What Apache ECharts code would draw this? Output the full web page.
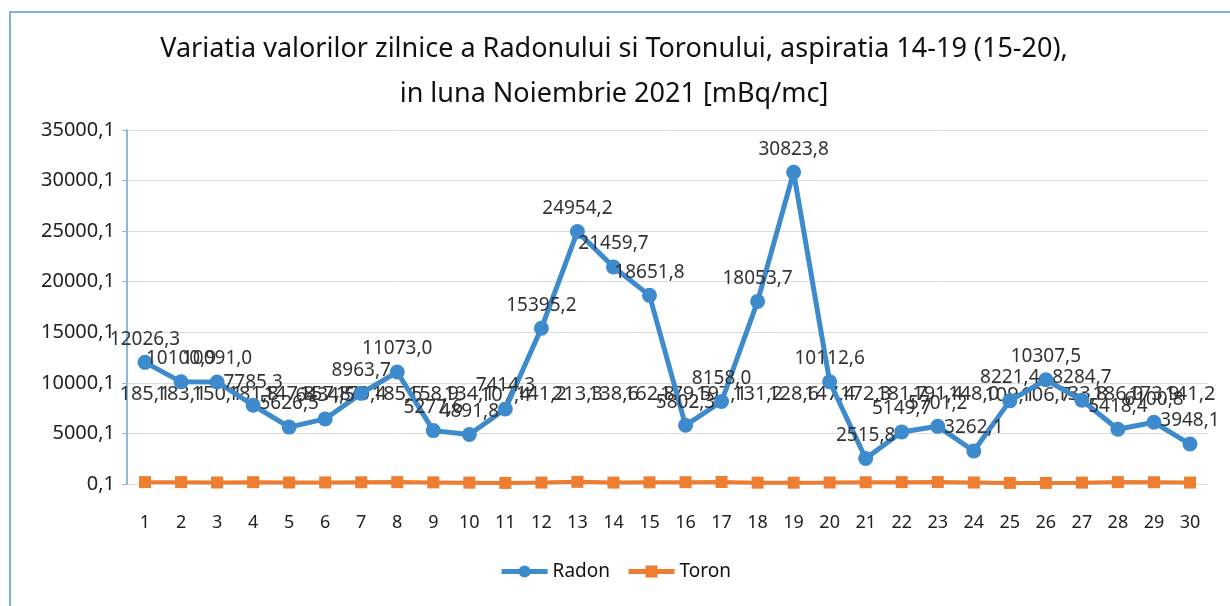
<!DOCTYPE html>
<html>
<head>
<meta charset="utf-8">
<script src="https://cdn.jsdelivr.net/npm/echarts@6/dist/echarts.min.js"></script>
<style>
  html, body { margin: 0; padding: 0; background: #fff; }
  #chart { width: 1230px; height: 606px; }
</style>
</head>
<body>
<div id="chart"></div>
<script>
// days of the month
var days = [];
for (var d = 1; d <= 30; d++) days.push(String(d));

// Radon, mBq/mc
var radon = [12026.3, 10100.9, 10091.0, 7785.3, 5626.5, 6434.5, 8963.7, 11073.0, 5277.6, 4891.8,
             7414.3, 15395.2, 24954.2, 21459.7, 18651.8, 5802.3, 8158.0, 18053.7, 30823.8, 10112.6,
             2515.8, 5149.7, 5701.2, 3262.1, 8221.4, 10307.5, 8284.7, 5418.4, 6100.8, 3948.1];

// Toron, mBq/mc
var toron = [185.1, 183.1, 150.1, 181.8, 147.8, 157.8, 170.4, 185.5, 158.9, 134.1,
             107.4, 141.2, 213.3, 138.6, 162.8, 179.5, 197.1, 131.2, 128.6, 147.4,
             172.3, 181.7, 191.4, 148.0, 109.1, 106.7, 133.8, 186.0, 173.9, 141.2];

var fmt = function (v) { return v.toFixed(1).replace('.', ','); };
var font = "'Noto Sans', sans-serif";

var myChart = echarts.init(document.getElementById('chart'));

var option = {
    backgroundColor: '#fff',
    animation: false,
    textStyle: { fontFamily: font },
    title: {
        text: 'Variatia valorilor zilnice a Radonului si Toronului, aspiratia 14-19 (15-20),\nin luna Noiembrie 2021 [mBq/mc]',
        left: 609,
        textAlign: 'center',
        top: 22,
        textStyle: {
            color: '#111',
            fontSize: 27,
            fontWeight: 'normal',
            lineHeight: 45,
            fontFamily: font
        }
    },
    legend: {
        bottom: 20,
        left: 'center',
        itemWidth: 46,
        itemHeight: 15,
        itemGap: 16,
        lineStyle: { width: 5 },
        textStyle: { color: '#111', fontSize: 19, fontFamily: font },
        data: ['Radon', 'Toron']
    },
    grid: { left: 127, right: 22, top: 130, bottom: 122 },
    xAxis: {
        type: 'category',
        data: days,
        boundaryGap: true,
        axisLine: { show: false },
        axisTick: { show: false },
        axisLabel: { color: '#222', fontSize: 18, margin: 30 }
    },
    yAxis: {
        type: 'value',
        min: 0,
        max: 35000,
        interval: 5000,
        axisLine: { show: true, lineStyle: { color: '#8fb8de', width: 2 } },
        axisTick: { show: true, length: 5, lineStyle: { color: '#8fb8de' } },
        axisLabel: {
            color: '#222',
            fontSize: 20,
            margin: 12,
            formatter: function (v) { return v + ',1'; }
        },
        splitLine: { lineStyle: { color: '#dcdcdc', width: 1 } }
    },
    series: [
        {
            name: 'Radon',
            type: 'line',
            data: radon,
            z: 3,
            color: '#3d8bcd',
            symbol: 'circle',
            symbolSize: 15,
            lineStyle: { width: 5, color: '#3d8bcd' },
            itemStyle: { color: '#3d8bcd' },
            label: {
                show: true,
                position: 'top',
                distance: 6,
                color: '#333',
                fontSize: 19,
                formatter: function (p) { return fmt(p.value); }
            }
        },
        {
            name: 'Toron',
            type: 'line',
            data: toron,
            z: 2,
            color: '#ed7d31',
            symbol: 'rect',
            symbolSize: 12,
            lineStyle: { width: 4, color: '#ed7d31' },
            itemStyle: { color: '#ed7d31' },
            label: {
                show: true,
                position: 'top',
                distance: 72,
                color: '#333',
                fontSize: 20,
                formatter: function (p) { return fmt(p.value); }
            }
        }
    ],
    graphic: [
        {
            type: 'polyline',
            shape: { points: [[10, 606], [10, 12], [1230, 12]] },
            style: { stroke: '#7fb2dc', lineWidth: 2, fill: null }
        }
    ]
};

myChart.setOption(option);
</script>
</body>
</html>
